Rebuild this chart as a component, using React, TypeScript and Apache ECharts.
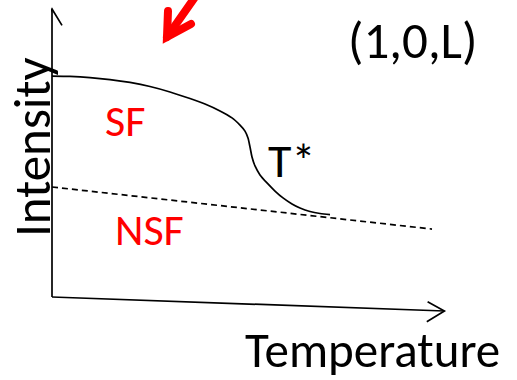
import React, { useEffect, useRef } from "react";
import * as echarts from "echarts";

// SF intensity versus temperature (arbitrary units)
const sfTemperature = [0, 4.5, 9.5, 14.5, 19.5, 24.5, 29.5, 34.5, 38.25, 42, 45, 47, 48.25, 49, 49.5, 50, 50.75, 52, 53.75, 55.75, 57.75, 60, 62, 64.5, 67, 69.5];
const sfIntensity = [76.7, 76.6, 76.2, 75.5, 74.5, 73.1, 71.2, 68.9, 67.0, 64.6, 62.2, 59.7, 57.6, 55.2, 52.1, 48.6, 45.5, 42.4, 39.6, 36.8, 34.4, 32.3, 30.9, 29.7, 29.0, 28.6];

// NSF background: a straight, slowly falling line
const nsfTemperature = [0, 95];
const nsfIntensity = [38.2, 23.6];

// Hand-drawn axes with open arrowheads, in data units
const yAxisX = [0, 0];
const yAxisY = [0, 100];
const yArrowX = [-2.4, 0, 2.5];
const yArrowY = [94.3, 100, 94.3];
const xAxisX = [0, 98.1];
const xAxisY = [0, -4.86];
const xArrowX = [93.9, 98.1, 93.7];
const xArrowY = [-1.63, -4.86, -8.58];

const zip = (xs: number[], ys: number[]) => xs.map((x, i) => [x, ys[i]]);

const FONT = "Carlito, Calibri, Lato, 'Open Sans', sans-serif";

export default function App() {
  const ref = useRef<HTMLDivElement>(null);

  useEffect(() => {
    if (!ref.current) return;
    const chart = echarts.init(ref.current, null, { renderer: "svg" });

    const blackLine = (name: string, data: number[][], width = 1.6, type: any = "solid") => ({
      name,
      type: "line",
      data,
      showSymbol: false,
      symbol: "none",
      clip: false,
      silent: true,
      lineStyle: { color: "#000", width, type, cap: "butt", join: "miter" },
    });

    const text = (t: string, x: number, y: number, size: number, color: string, extra: any = {}) => ({
      type: "text",
      x,
      y,
      silent: true,
      ...extra,
      style: {
        text: t,
        fill: color,
        font: `${size}px ${FONT}`,
        align: "left",
        verticalAlign: "middle",
      },
    });

    chart.setOption({
      animation: false,
      backgroundColor: "#fff",
      grid: { left: 52, top: 9, width: 400, height: 288, containLabel: false },
      xAxis: { type: "value", min: 0, max: 100, show: false },
      yAxis: { type: "value", min: 0, max: 100, show: false },
      series: [
        { ...blackLine("SF", zip(sfTemperature, sfIntensity), 1.7), smooth: 0.25 },
        blackLine("NSF", zip(nsfTemperature, nsfIntensity), 1.7, [6, 4]),
        blackLine("yAxis", zip(yAxisX, yAxisY), 1.7),
        blackLine("yArrow", zip(yArrowX, yArrowY), 1.7),
        blackLine("xAxis", zip(xAxisX, xAxisY), 1.7),
        blackLine("xArrow", zip(xArrowX, xArrowY), 1.7),
      ],
      graphic: [
        text("(1,0,L)", 348, 40.5, 51, "#000"),
        text("T*", 268, 160, 48, "#000"),
        text("SF", 105, 121, 44, "#ff0000"),
        text("NSF", 115, 230, 44, "#ff0000"),
        text("Temperature", 245, 350, 49, "#000"),
        text("Intensity", 32, 237, 51, "#000", { rotation: Math.PI / 2 }),
        {
          type: "polyline",
          silent: true,
          shape: { points: [[168, 11], [167, 37], [191, 24]] },
          style: { stroke: "#ff0000", lineWidth: 8, lineCap: "round", lineJoin: "miter", fill: null },
        },
        {
          type: "line",
          silent: true,
          shape: { x1: 167, y1: 37, x2: 200, y2: -10 },
          style: { stroke: "#ff0000", lineWidth: 8, lineCap: "round" },
        },
      ],
    });

    return () => chart.dispose();
  }, []);

  return (
    <div
      ref={ref}
      style={{ position: "fixed", left: 0, top: 0, width: 517, height: 380, background: "#fff" }}
    />
  );
}
